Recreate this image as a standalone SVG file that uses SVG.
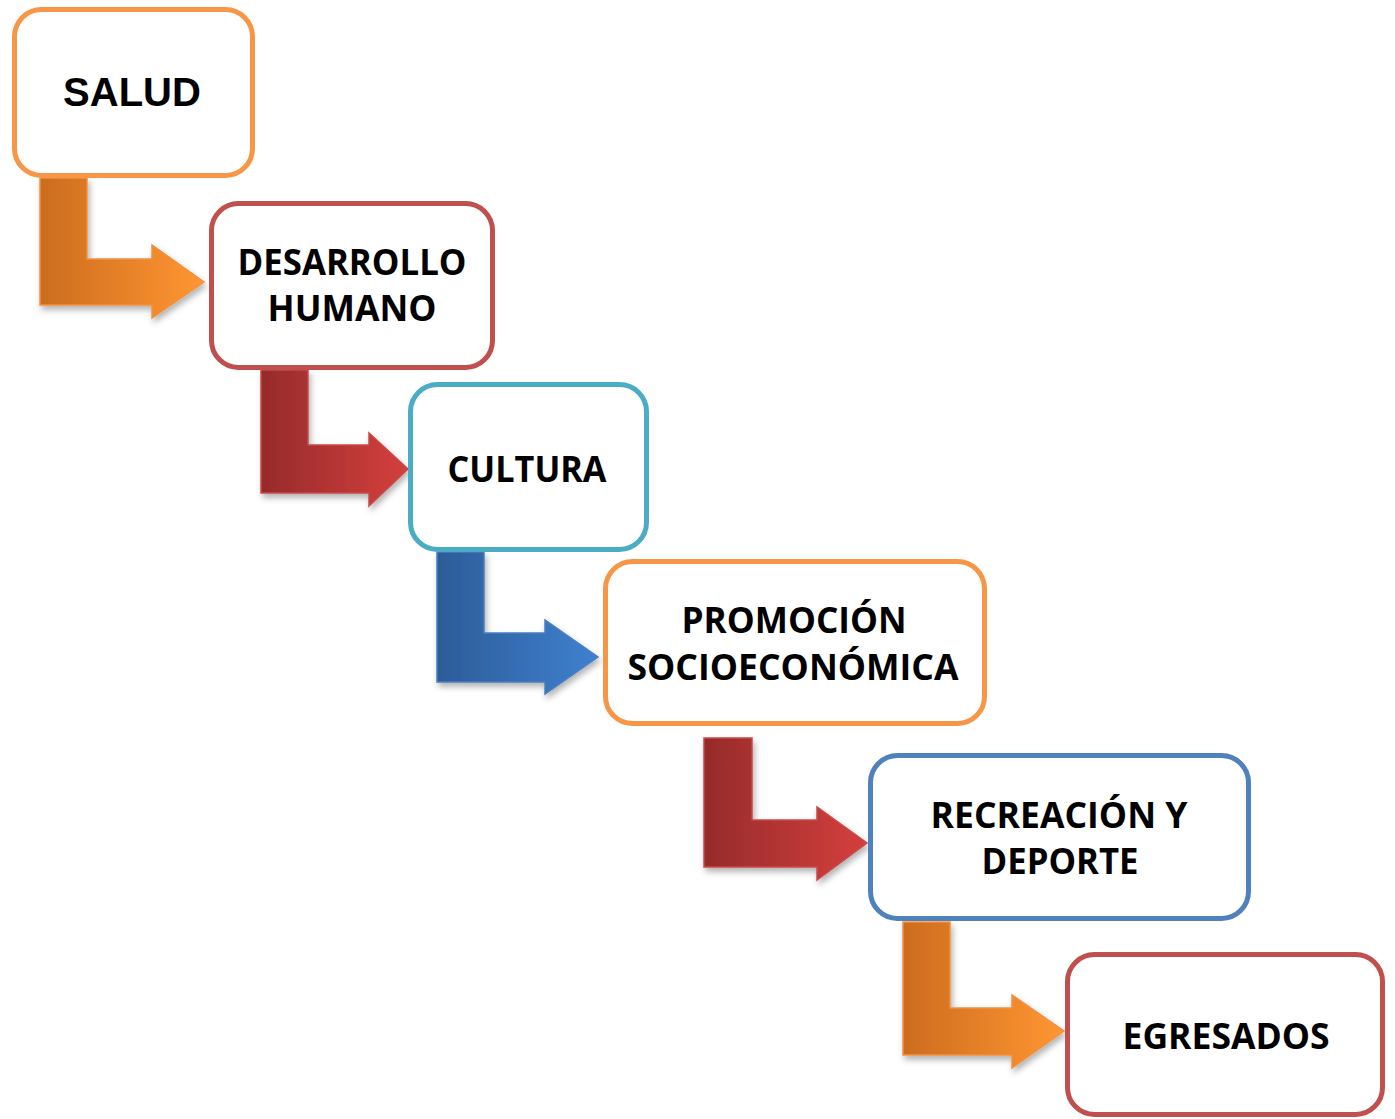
<svg xmlns="http://www.w3.org/2000/svg" width="1395" height="1119" viewBox="0 0 1395 1119">
<style>
.box{fill:#fff;stroke-width:5}
.o{stroke:#F79646}.r{stroke:#C0504D}.c{stroke:#4BACC6}.b{stroke:#4F81BD}
.t{font-family:"Open Sans","Liberation Sans",sans-serif;font-weight:bold;font-size:36px;fill:#000;text-anchor:middle}
.ta{font-family:"Liberation Sans",Arial,sans-serif;font-weight:bold;font-size:40px;fill:#000;text-anchor:middle}
.arr{filter:url(#sh);stroke-width:1.5}
</style>
<defs>
<linearGradient id="gO" x1="0" y1="0" x2="1" y2="0"><stop offset="0" stop-color="#CC6C1E"/><stop offset="1" stop-color="#FF9632"/></linearGradient>
<linearGradient id="gR" x1="0" y1="0" x2="1" y2="0"><stop offset="0" stop-color="#962B2B"/><stop offset="1" stop-color="#D43F3D"/></linearGradient>
<linearGradient id="gB" x1="0" y1="0" x2="1" y2="0"><stop offset="0" stop-color="#2C5C97"/><stop offset="1" stop-color="#3F80D0"/></linearGradient>
<filter id="sh" x="-10%" y="-10%" width="130%" height="130%"><feDropShadow dx="2" dy="4" stdDeviation="3" flood-color="#000" flood-opacity="0.3"/></filter>
</defs>
<g id="connectors">
<path class="arr" fill="url(#gO)" stroke="#F29040" d="M40,178 H87 V259 H152 V245 L204,282 L152,318 V305 H40 Z"/>
<path class="arr" fill="url(#gR)" stroke="#C84A48" d="M261,370 H308 V445 H369 V433 L408,469 L369,506 V493 H261 Z"/>
<path class="arr" fill="url(#gB)" stroke="#4A7EC0" d="M437,552 H484 V633 H545 V620 L598,657 L545,694 V682 H437 Z"/>
<path class="arr" fill="url(#gR)" stroke="#C84A48" d="M704,738 H752 V820 H817 V807 L867,843 L817,880 V867 H704 Z"/>
<path class="arr" fill="url(#gO)" stroke="#F29040" d="M903,922 H950 V1008 H1012 V995 L1064,1031 L1012,1068 V1055 H903 Z"/>
</g>
<g id="salud">
<rect class="box o" x="14.5" y="9.5" width="238" height="166" rx="27"/>
<text class="ta" x="132" y="106">SALUD</text>
</g>
<g id="desarrollo">
<rect class="box r" x="211.5" y="203.5" width="281" height="164" rx="27"/>
<text class="t" x="352" y="275" textLength="229" lengthAdjust="spacingAndGlyphs">DESARROLLO</text>
<text class="t" x="352" y="321" textLength="169" lengthAdjust="spacingAndGlyphs">HUMANO</text>
</g>
<g id="cultura">
<rect class="box c" x="410.5" y="384.5" width="236" height="165" rx="27"/>
<text class="t" x="527" y="482" textLength="159" lengthAdjust="spacingAndGlyphs">CULTURA</text>
</g>
<g id="promocion">
<rect class="box o" x="605.5" y="561.5" width="379" height="162" rx="27"/>
<text class="t" x="794" y="633" textLength="225" lengthAdjust="spacingAndGlyphs">PROMOCIÓN</text>
<text class="t" x="793" y="680" textLength="331" lengthAdjust="spacingAndGlyphs">SOCIOECONÓMICA</text>
</g>
<g id="recreacion">
<rect class="box b" x="870.5" y="755.5" width="378" height="163" rx="27"/>
<text class="t" x="1059" y="828" textLength="257" lengthAdjust="spacingAndGlyphs">RECREACIÓN Y</text>
<text class="t" x="1060" y="874" textLength="157" lengthAdjust="spacingAndGlyphs">DEPORTE</text>
</g>
<g id="egresados">
<rect class="box r" x="1067.5" y="954.5" width="315" height="160" rx="27"/>
<text class="t" x="1226" y="1049" textLength="207" lengthAdjust="spacingAndGlyphs">EGRESADOS</text>
</g>
</svg>
